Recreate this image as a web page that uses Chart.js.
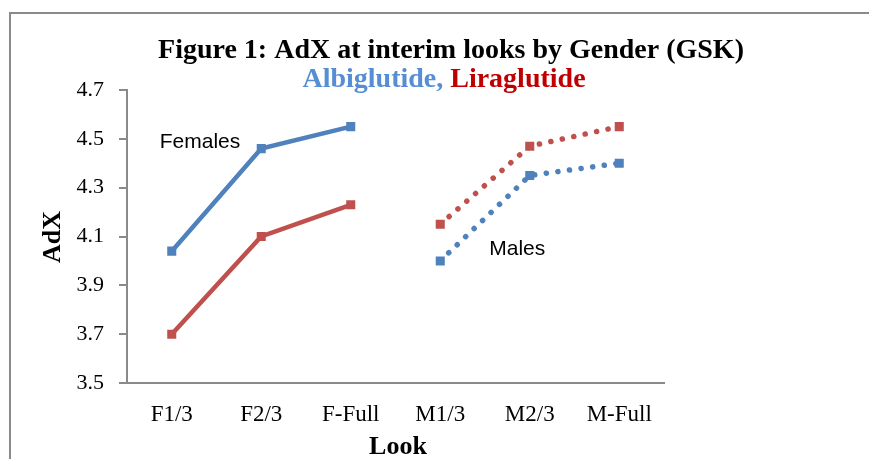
<!DOCTYPE html>
<html>
<head>
<meta charset="utf-8">
<script src="https://cdn.jsdelivr.net/npm/chart.js@4/dist/chart.umd.min.js"></script>
<style>
  html, body { margin: 0; padding: 0; background: #fff; }
  #wrap { position: relative; width: 869px; height: 459px; overflow: hidden; }
  #frame { position: absolute; left: 9px; top: 12px; width: 2000px; height: 2000px;
           border-left: 2px solid #8a8a8a; border-top: 2px solid #8a8a8a; }
  canvas { position: absolute; left: 0; top: 0; }
</style>
</head>
<body>
<div id="wrap">
  <div id="frame"></div>
  <canvas id="chart" width="869" height="459"></canvas>
</div>
<script>
// Chart data
const looks = ['F1/3', 'F2/3', 'F-Full', 'M1/3', 'M2/3', 'M-Full'];
const albiFemales = [4.04, 4.46, 4.55, null, null, null];
const albiMales   = [null, null, null, 4.00, 4.35, 4.40];
const liraFemales = [3.70, 4.10, 4.23, null, null, null];
const liraMales   = [null, null, null, 4.15, 4.47, 4.55];
const yTicks = [3.5, 3.7, 3.9, 4.1, 4.3, 4.5, 4.7];

const titleText = 'Figure 1: AdX at interim looks by Gender (GSK)';
const subtitleParts = [
    { text: 'Albiglutide, ', color: '#558ED5' },
    { text: 'Liraglutide', color: '#C00000' }
];

const BLUE = '#4F81BD';
const RED = '#C0504D';
const SERIF = '"Liberation Serif", "Times New Roman", serif';
const SANS = '"Liberation Sans", Arial, sans-serif';

function lineSet(label, data, color, dotted) {
    return {
        label: label,
        data: data,
        borderColor: color,
        backgroundColor: color,
        borderWidth: dotted ? 5.5 : 4.5,
        borderDash: dotted ? [0.1, 11.6] : [],
        borderCapStyle: dotted ? 'round' : 'butt',
        pointStyle: 'rect',
        pointRadius: 6.4,
        pointHoverRadius: 6.4,
        pointBorderWidth: 0,
        spanGaps: false,
        tension: 0
    };
}

// titles, axis titles and the Females / Males labels
const textPlugin = {
    id: 'textPlugin',
    afterDraw(chart) {
        const ctx = chart.ctx;
        const x = chart.scales.x;
        const y = chart.scales.y;
        ctx.save();
        ctx.textBaseline = 'alphabetic';

        ctx.fillStyle = '#000';
        ctx.font = 'bold 28px ' + SERIF;
        ctx.textAlign = 'center';
        ctx.fillText(titleText, 451, 58);

        // two-coloured subtitle
        ctx.font = 'bold 28px ' + SERIF;
        const total = subtitleParts.reduce((w, p) => w + ctx.measureText(p.text).width, 0);
        let sx = 444 - total / 2;
        ctx.textAlign = 'left';
        subtitleParts.forEach(p => {
            ctx.fillStyle = p.color;
            ctx.fillText(p.text, sx, 87);
            sx += ctx.measureText(p.text).width;
        });

        // axis titles
        ctx.fillStyle = '#000';
        ctx.font = 'bold 26px ' + SERIF;
        ctx.textAlign = 'center';
        ctx.fillText('Look', 398, 454);
        ctx.save();
        ctx.translate(60, 237);
        ctx.rotate(-Math.PI / 2);
        ctx.fillText('AdX', 0, 0);
        ctx.restore();

        // series group labels
        ctx.font = '21px ' + SANS;
        ctx.textAlign = 'left';
        ctx.fillText('Females', x.getPixelForValue(0) - 12, y.getPixelForValue(4.50) + 9);
        ctx.fillText('Males', x.getPixelForValue(3) + 49, y.getPixelForValue(4.06) + 9);
        ctx.restore();
    }
};

new Chart(document.getElementById('chart'), {
    type: 'line',
    data: {
        labels: looks,
        datasets: [
            lineSet('Liraglutide Females', liraFemales, RED, false),
            lineSet('Liraglutide Males', liraMales, RED, true),
            lineSet('Albiglutide Females', albiFemales, BLUE, false),
            lineSet('Albiglutide Males', albiMales, BLUE, true)
        ]
    },
    options: {
        responsive: false,
        animation: false,
        devicePixelRatio: 1,
        layout: { padding: { left: 20, right: 205, top: 90, bottom: 10 } },
        plugins: {
            legend: { display: false },
            title: { display: false },
            tooltip: { enabled: false }
        },
        scales: {
            x: {
                offset: true,
                grid: { display: true, drawOnChartArea: false, drawTicks: false },
                border: { display: true, color: '#8a8a8a', width: 2 },
                ticks: { color: '#000', padding: 18, font: { family: SERIF, size: 23 }, maxRotation: 0 },
                afterFit(scale) { scale.height = 66; }
            },
            y: {
                min: 3.5,
                max: 4.7,
                afterBuildTicks(scale) { scale.ticks = yTicks.map(v => ({ value: v })); },
                grid: { display: true, drawOnChartArea: false, drawTicks: true, tickLength: 8, color: '#8a8a8a', lineWidth: 2 },
                border: { display: true, color: '#8a8a8a', width: 2 },
                ticks: {
                    color: '#000',
                    padding: 15,
                    font: { family: SERIF, size: 22 },
                    callback: v => Number(v).toFixed(1)
                },
                afterFit(scale) { scale.width = 107; }
            }
        }
    },
    plugins: [textPlugin]
});
</script>
</body>
</html>
